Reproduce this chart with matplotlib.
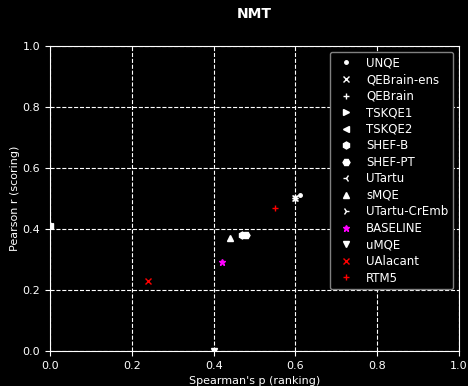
import matplotlib
matplotlib.use("Agg")
import matplotlib.pyplot as plt

# system -> (spearman, pearson, marker, colour)
systems = ["UNQE", "QEBrain-ens", "QEBrain", "TSKQE1", "TSKQE2", "SHEF-B", "SHEF-PT",
           "UTartu", "sMQE", "UTartu-CrEmb", "BASELINE", "uMQE", "UAlacant", "RTM5"]
spearman = [0.61, 0.60, 0.60, 0.0, 0.0, 0.47, 0.48, 0.60, 0.44, 0.60, 0.42, 0.40, 0.24, 0.55]
pearson = [0.51, 0.50, 0.50, 0.415, 0.41, 0.38, 0.38, 0.50, 0.37, 0.50, 0.29, 0.0, 0.23, 0.47]
markers = [".", "x", "+", ">", "<", "h", "H", "3", "^", "4", "*", "v", "x", "+"]
colours = ["white"] * 10 + ["magenta", "white", "red", "red"]

plt.style.use("dark_background")
plt.rcParams["font.size"] = 8

fig, ax = plt.subplots(figsize=(4.68, 3.86), dpi=100)
for name, sx, py, m, c in zip(systems, spearman, pearson, markers, colours):
    ax.plot([sx], [py], marker=m, color=c, linestyle="none", markersize=5,
            markeredgewidth=1, label=name, zorder=3)

ax.set_xlim(0, 1)
ax.set_ylim(0, 1)
ax.grid(True, color="white", linestyle="--", linewidth=0.8)
ax.set_title("NMT", fontweight="bold", fontsize=10, pad=20)
ax.set_xlabel("Spearman's p (ranking)")
ax.set_ylabel("Pearson r (scoring)", labelpad=2)
ax.legend(loc="upper right", fontsize=8.5, facecolor="black", edgecolor="gray",
          framealpha=1, borderpad=0.4, labelspacing=0.3, handletextpad=0.7,
          borderaxespad=0.5)

fig.subplots_adjust(left=0.107, right=0.981, top=0.881, bottom=0.091)
fig.savefig("out.png")
